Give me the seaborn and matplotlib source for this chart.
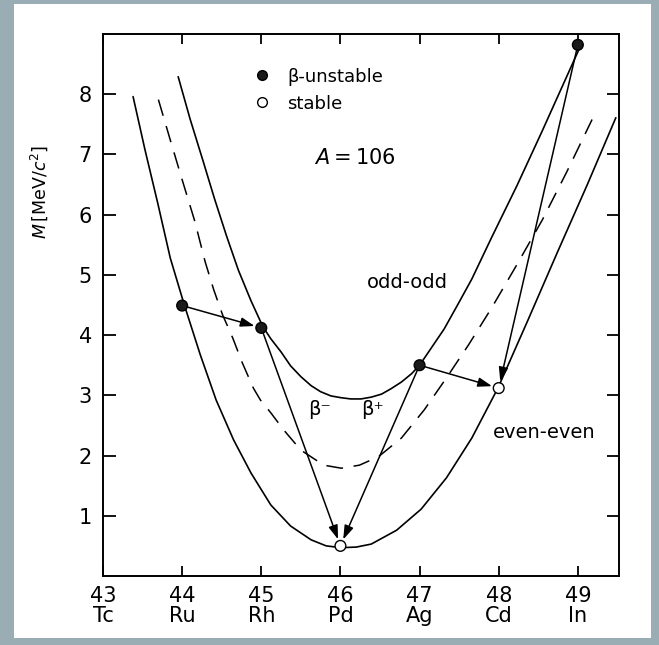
# Mass parabolas for the isobars A = 106 (odd-odd, even-even and the
# dashed mean curve) with the beta-decay chain towards the stable nuclides.

import pandas as pd
import seaborn as sns
import matplotlib
matplotlib.use("Agg")
import matplotlib.pyplot as plt
from matplotlib.lines import Line2D
from matplotlib.patches import Rectangle

# --- data (Z, M in MeV/c^2) ---
odd_odd_z = [43.95, 44.10, 44.26, 44.41, 44.56, 44.71, 44.87, 45.02, 45.12, 45.25,
             45.37, 45.50, 45.63, 45.75, 45.88, 46.01, 46.13, 46.26, 46.39, 46.52,
             46.64, 46.77, 46.90, 47.00, 47.15, 47.31, 47.48, 47.66, 47.91, 48.23,
             48.55, 48.80, 49.04]
odd_odd_m = [8.29, 7.59, 6.91, 6.26, 5.65, 5.08, 4.57, 4.14, 3.94, 3.72,
             3.49, 3.31, 3.16, 3.06, 2.99, 2.96, 2.94, 2.94, 2.97, 3.02,
             3.11, 3.22, 3.36, 3.50, 3.79, 4.10, 4.50, 4.93, 5.62, 6.48,
             7.39, 8.12, 8.82]

mean_z = [43.70, 43.85, 44.00, 44.16, 44.29, 44.40, 44.51, 44.64, 44.76, 44.90,
          44.99, 45.12, 45.28, 45.50, 45.79, 46.01, 46.24, 46.48, 46.77, 47.06,
          47.34, 47.62, 47.91, 48.23, 48.55, 48.86, 49.18]
mean_m = [7.91, 7.24, 6.58, 5.89, 5.22, 4.75, 4.34, 3.95, 3.54, 3.12,
          2.92, 2.71, 2.43, 2.09, 1.84, 1.79, 1.84, 1.98, 2.29, 2.76,
          3.29, 3.84, 4.45, 5.17, 5.91, 6.71, 7.58]

even_even_z = [43.38, 43.53, 43.69, 43.85, 44.03, 44.23, 44.43, 44.65, 44.87, 45.12,
               45.37, 45.63, 45.82, 46.01, 46.20, 46.39, 46.71, 47.02, 47.34, 47.66,
               47.99, 48.36, 48.74, 49.12, 49.48]
even_even_m = [7.96, 7.08, 6.20, 5.28, 4.49, 3.67, 2.92, 2.26, 1.71, 1.18,
               0.83, 0.60, 0.50, 0.47, 0.48, 0.53, 0.76, 1.11, 1.63, 2.29,
               3.12, 4.22, 5.37, 6.50, 7.61]

nuclides = ["Ru", "Rh", "Pd", "Ag", "Cd", "In"]
nuclide_z = [44, 45, 46, 47, 48, 49]
nuclide_m = [4.49, 4.12, 0.50, 3.50, 3.12, 8.82]
nuclide_stable = [False, False, True, False, True, False]

decays = [("Ru", "Rh"), ("Rh", "Pd"), ("Ag", "Pd"), ("Ag", "Cd"), ("In", "Cd")]

z_ticks = [43, 44, 45, 46, 47, 48, 49]
elements = ["Tc", "Ru", "Rh", "Pd", "Ag", "Cd", "In"]
m_ticks = [1, 2, 3, 4, 5, 6, 7, 8]

nuc_df = pd.DataFrame({"name": nuclides, "z": nuclide_z, "m": nuclide_m,
                       "stable": nuclide_stable})

sns.set_style("ticks", {"text.color": "black", "axes.labelcolor": "black",
                        "xtick.color": "black", "ytick.color": "black",
                        "axes.edgecolor": "black"})
plt.rcParams["font.family"] = ["DejaVu Sans"]
plt.rcParams["mathtext.fontset"] = "dejavusans"

fig = plt.figure(figsize=(6.59, 6.45), dpi=100, facecolor="#9aadb5")
# white page inside the grey frame
fig.add_artist(Rectangle((14 / 659, 7 / 645), 637 / 659, 634 / 645,
                         transform=fig.transFigure, facecolor="white",
                         edgecolor="none", zorder=0))
ax = fig.add_axes([0.1563, 0.1070, 0.7830, 0.8403])
ax.set_facecolor("white")

# curves
sns.lineplot(x=odd_odd_z, y=odd_odd_m, ax=ax, color="black", lw=1.2,
             sort=False, estimator=None, zorder=2)
sns.lineplot(x=even_even_z, y=even_even_m, ax=ax, color="black", lw=1.2,
             sort=False, estimator=None, zorder=2)
sns.lineplot(x=mean_z, y=mean_m, ax=ax, color="black", lw=1.1,
             ls=(0, (11, 7)), sort=False, estimator=None, zorder=2)

# decay arrows
pos = nuc_df.set_index("name")
for src, dst in decays:
    ax.annotate("", xy=(pos.loc[dst, "z"], pos.loc[dst, "m"]),
                xytext=(pos.loc[src, "z"], pos.loc[src, "m"]),
                arrowprops=dict(arrowstyle="-|>,head_length=0.6,head_width=0.2",
                                color="black", lw=1.1, shrinkA=4, shrinkB=5,
                                mutation_scale=14),
                zorder=3)

# nuclides
sns.scatterplot(data=nuc_df, x="z", y="m", hue="stable",
                palette={False: "#1a1a1a", True: "white"},
                edgecolor="black", linewidth=1.0, s=60, legend=False,
                ax=ax, zorder=5)

# labels inside the plot
ax.text(46.18, 6.94, r"$A=106$", fontsize=15, ha="center", va="center")
ax.text(46.85, 4.88, "odd-odd", fontsize=14, ha="center", va="center")
ax.text(48.58, 2.39, "even-even", fontsize=14, ha="center", va="center")
ax.text(45.73, 2.76, "β⁻", fontsize=14, ha="center", va="center")
ax.text(46.41, 2.76, "β⁺", fontsize=14, ha="center", va="center")

handles = [Line2D([], [], ls="none", marker="o", ms=7, mfc="#1a1a1a", mec="black"),
           Line2D([], [], ls="none", marker="o", ms=7, mfc="white", mec="black")]
ax.legend(handles, ["β-unstable", "stable"], loc="upper left",
          bbox_to_anchor=(0.291, 0.938), frameon=False, borderpad=0,
          borderaxespad=0, handlelength=1, handletextpad=0.9,
          labelspacing=0.5, fontsize=13)

# axes
ax.set_xlim(43, 49.52)
ax.set_ylim(0, 9)
ax.set_xticks(z_ticks)
ax.set_xticklabels([f"{z}\n{el}" for z, el in zip(z_ticks, elements)],
                   linespacing=1.0)
ax.set_yticks(m_ticks)
ax.set_xlabel("")
ax.set_ylabel(r"$M\,$[MeV/$c^2$]", fontsize=12.5)
ax.yaxis.set_label_coords(-0.102, 0.708)

ax.tick_params(direction="in", top=True, right=True, colors="black")
ax.tick_params(axis="x", length=7, width=1.3, labelsize=15, pad=7)
ax.tick_params(axis="y", length=9, width=1.3, labelsize=15, pad=8)
for side in ["left", "right", "top", "bottom"]:
    ax.spines[side].set_color("black")
    ax.spines[side].set_linewidth(1.4)

fig.savefig("out.png", dpi=100, facecolor=fig.get_facecolor())
